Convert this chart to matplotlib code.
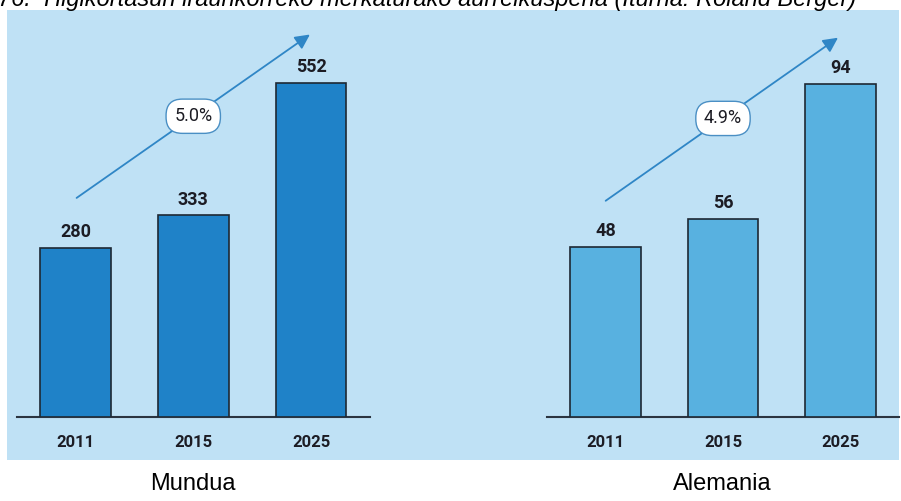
import matplotlib.pyplot as plt
from matplotlib.patches import Rectangle

years = ["2011", "2015", "2025"]
world_values = [280, 333, 552]
germany_values = [48, 56, 94]
world_growth = "5.0%"
germany_growth = "4.9%"
panel_names = ["Mundua", "Alemania"]
title = "76.  Higikortasun iraunkorreko merkaturako aurreikuspena (Iturria: Roland Berger)"

BG = "#bfe1f5"
EDGE = "#1d2833"
ARROW = "#2f86c6"


def draw_panel(ax, values, color, ymax, growth, arrow_from, arrow_to):
    """Bar chart with value labels and a growth arrow."""
    x = range(len(values))
    bars = ax.bar(x, values, width=0.6, color=color, edgecolor=EDGE, linewidth=1.2, zorder=3)
    for bar, v in zip(bars, values):
        ax.annotate(str(v), (bar.get_x() + bar.get_width() / 2, v),
                    xytext=(0, 5), textcoords="offset points", ha="center", va="bottom",
                    fontsize=13, fontweight="bold", family="Roboto", color="#1c1c24")

    ax.set_xlim(-0.5, 2.5)
    ax.set_ylim(0, ymax)
    ax.set_facecolor("none")
    for side in ("top", "left", "right"):
        ax.spines[side].set_visible(False)
    ax.spines["bottom"].set_color("#2b3440")
    ax.spines["bottom"].set_linewidth(1.5)
    ax.set_yticks([])
    ax.set_xticks(list(x))
    ax.set_xticklabels(years, fontsize=12, family="Roboto", fontweight="bold", color="#1c1c24")
    ax.tick_params(axis="x", length=0, pad=13)

    ax.annotate("", xy=arrow_to, xytext=arrow_from,
                arrowprops=dict(arrowstyle="-|>", color=ARROW, lw=1.3, mutation_scale=22,
                                shrinkA=0, shrinkB=0), zorder=4)
    # growth label sits on the arrow above the middle bar
    my = arrow_from[1] + (arrow_to[1] - arrow_from[1]) * (1.0 - arrow_from[0]) / (arrow_to[0] - arrow_from[0])
    ax.text(1.0, my, growth, ha="center", va="center", fontsize=13, family="Roboto",
            color="#1c1c24", zorder=5,
            bbox=dict(boxstyle="round,pad=0.45,rounding_size=0.9", fc="white",
                      ec="#4a8fc4", lw=1.0))


fig = plt.figure(figsize=(9.01, 5.01), dpi=100)
fig.patch.set_facecolor("white")

# light blue backdrop behind both charts
fig.patches.append(Rectangle((7 / 901, 41 / 501), 892 / 901, 450 / 501,
                             transform=fig.transFigure, facecolor=BG, edgecolor="none", zorder=-1))

fig.text(-0.002, 1 - 6 / 501, title, ha="left", va="baseline", fontsize=17,
         style="italic", family="Liberation Sans", color="black")

bottom = (501 - 417) / 501
height = 397 / 501
ax1 = fig.add_axes([16.5 / 901, bottom, 353.5 / 901, height])
ax2 = fig.add_axes([547 / 901, bottom, 352 / 901, height])

draw_panel(ax1, world_values, "#1f82c8", 656, world_growth, (0.01, 362), (1.99, 632))
draw_panel(ax2, germany_values, "#58b1e0", 112, germany_growth, (0.0, 61), (1.98, 107))

fig.text(193 / 901, 1 - 484 / 501, panel_names[0], ha="center", va="center",
         fontsize=17, family="Liberation Sans", color="black")
fig.text(722 / 901, 1 - 484 / 501, panel_names[1], ha="center", va="center",
         fontsize=17, family="Liberation Sans", color="black")

fig.savefig("out.png", dpi=100, facecolor=fig.get_facecolor())
